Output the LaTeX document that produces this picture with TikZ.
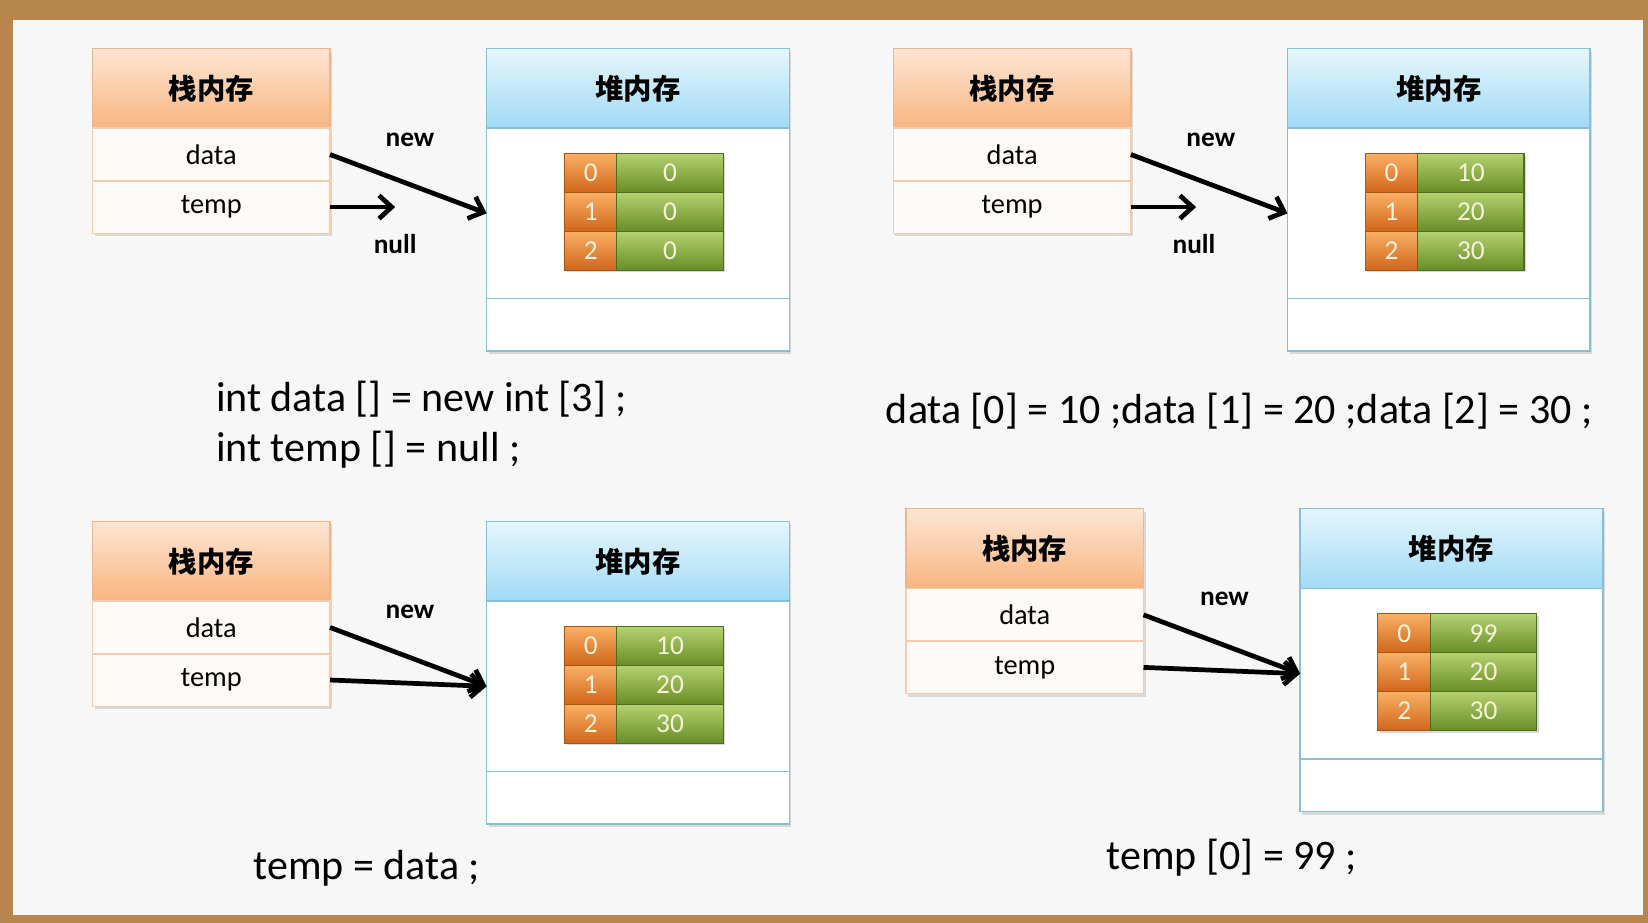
\documentclass[tikz,border=0pt]{standalone}
\usepackage{fontspec}
\setmainfont{Carlito}
\newfontfamily\cjk{Noto Sans CJK SC}
\usetikzlibrary{arrows.meta,positioning,shadows}
\definecolor{holz}{HTML}{B7864C}
\definecolor{grund}{HTML}{F7F7F7}
\definecolor{stacktop}{HTML}{FDE6D4}
\definecolor{stackbottom}{HTML}{F8B580}
\definecolor{stackline}{HTML}{F0B58C}
\definecolor{rowfill}{HTML}{FDFAF7}
\definecolor{heaptop}{HTML}{E6F6FD}
\definecolor{heapbottom}{HTML}{A0DAF4}
\definecolor{heapline}{HTML}{86BFD6}
\definecolor{orangetop}{HTML}{F9B066}
\definecolor{orangebase}{HTML}{EB7E20}
\definecolor{orangedark}{HTML}{D0661A}
\definecolor{orangeline}{HTML}{A9550F}
\definecolor{greentop}{HTML}{B4D270}
\definecolor{greenbase}{HTML}{7DA635}
\definecolor{greendark}{HTML}{688D26}
\definecolor{greenline}{HTML}{4F6E1C}
\definecolor{zahl}{HTML}{F4F2DA}
\tikzset{
    %Define standard arrow tip
    >={Straight Barb[length=12pt,width=22pt]},
    %Define style for stack boxes
    stackhead/.style={
           rectangle, inner sep=0pt, outer sep=0pt,
           draw=stackline, line width=1.5pt,
           top color=stacktop, bottom color=stackbottom,
           minimum width=226pt, minimum height=76pt,
           font=\cjk\bfseries\fontsize{27}{30}\selectfont,
           drop shadow={shadow xshift=2pt, shadow yshift=-3pt, opacity=0.25}},
    stackrow/.style={
           rectangle, inner sep=0pt, outer sep=0pt,
           draw=stackline!70, line width=1.5pt, fill=rowfill,
           minimum width=226pt, minimum height=50pt,
           font=\fontsize{27}{30}\selectfont,
           drop shadow={shadow xshift=2pt, shadow yshift=-3pt, opacity=0.25}},
    %Define style for heap boxes
    heaphead/.style={
           rectangle, inner sep=0pt, outer sep=0pt,
           draw=heapline, line width=1.5pt,
           top color=heaptop, bottom color=heapbottom,
           minimum width=288pt, minimum height=76pt,
           font=\cjk\bfseries\fontsize{27}{30}\selectfont,
           drop shadow={shadow xshift=2pt, shadow yshift=-3pt, opacity=0.25}},
    heapbody/.style={
           rectangle, inner sep=0pt, outer sep=0pt,
           draw=heapline, line width=1.5pt, fill=white,
           minimum width=288pt, minimum height=162pt,
           drop shadow={shadow xshift=2pt, shadow yshift=-3pt, opacity=0.25}},
    heapfoot/.style={heapbody, minimum height=50pt},
    % Define array cells
    idx/.style={
           rectangle, inner sep=0pt, outer sep=0pt,
           draw=orangeline, line width=1pt,
           top color=orangetop, middle color=orangebase, bottom color=orangedark,
           minimum width=50pt, minimum height=37pt,
           text=zahl, font=\fontsize{26}{28}\selectfont,
           drop shadow={shadow xshift=2pt, shadow yshift=-2pt, opacity=0.3}},
    val/.style={idx, draw=greenline,
           top color=greentop, middle color=greenbase, bottom color=greendark,
           minimum width=101pt},
    % Define arrow style
    pil/.style={
           ->,
           line width=4.5pt},
    ptrtext/.style={font=\bfseries\fontsize{26}{28}\selectfont},
    codetext/.style={font=\fontsize{40}{48}\selectfont, align=left},
}
\begin{document}
\begin{tikzpicture}[x=1pt,y=-1pt]
\newcommand{\mempanel}[6]{%
  % Stack
  \node[stackhead, anchor=north west] (#1sh) at (#2,#3) {栈内存};
  \node[stackrow, anchor=north] (#1data) at (#1sh.south) {data};
  \node[stackrow, anchor=north] (#1temp) at (#1data.south) {temp};
  % Heap
  \node[heaphead, anchor=north west] (#1hh) at (#2+375,#3) {堆内存};
  \node[heapbody, anchor=north] (#1hb) at (#1hh.south) {};
  \node[heapfoot, anchor=north] (#1hf) at (#1hb.south) {};
  % Array
  \node[idx, anchor=north west] (#1i0) at (#2+449,#3+100) {0};
  \node[idx, below=0pt of #1i0] (#1i1) {1};
  \node[idx, below=0pt of #1i1] (#1i2) {2};
  \node[val, right=0pt of #1i0] (#1v0) {#4};
  \node[val, right=0pt of #1i1] (#1v1) {#5};
  \node[val, right=0pt of #1i2] (#1v2) {#6};
}
\useasboundingbox (0,0) rectangle (1568,878);
% Rahmen
\fill[holz] (0,0) rectangle (1568,878);
\fill[grund] (12.5,19) rectangle (1563,871);

% Oben links
\mempanel{A}{88}{46}{0}{0}{0}
\coordinate[right=62pt of Atemp.east] (Anull);
\draw[pil] (Adata.east) -- (Ahb.west);
\draw[pil] (Atemp.east) -- (Anull);
\node[ptrtext] (Anew) at (390,133) {new};
\node[ptrtext] (Anulltext) at (376,232) {null};
\node[codetext, anchor=west] (Acode) at (202,404) {int data [] = new int [3] ;\\int temp [] = null ;};

% Oben rechts
\mempanel{B}{850}{46}{10}{20}{30}
\coordinate[right=62pt of Btemp.east] (Bnull);
\draw[pil] (Bdata.east) -- (Bhb.west);
\draw[pil] (Btemp.east) -- (Bnull);
\node[ptrtext] (Bnew) at (1152,133) {new};
\node[ptrtext] (Bnulltext) at (1136,232) {null};
\node[codetext] (Bcode) at (1179,391) {data [0] = 10 ;data [1] = 20 ;data [2] = 30 ;};

% Unten links
\mempanel{C}{88}{496}{10}{20}{30}
\draw[pil] (Cdata.east) -- (Chb.west);
\draw[pil] (Ctemp.east) -- (Chb.west);
\node[ptrtext] (Cnew) at (390,582) {new};
\node[codetext] (Ccode) at (349,826) {temp = data ;};

% Unten rechts
\mempanel{D}{862}{484}{99}{20}{30}
\draw[pil] (Ddata.east) -- (Dhb.west);
\draw[pil] (Dtemp.east) -- (Dhb.west);
\node[ptrtext] (Dnew) at (1165,570) {new};
\node[codetext] (Dcode) at (1172,816) {temp [0] = 99 ;};
\end{tikzpicture}
\end{document}
